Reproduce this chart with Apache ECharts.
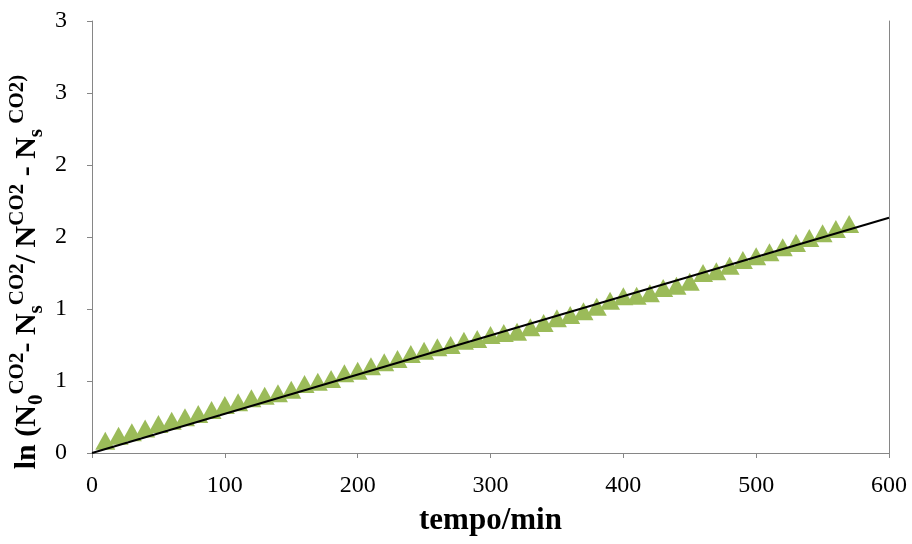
<!DOCTYPE html>
<html>
<head>
<meta charset="utf-8">
<script src="https://cdn.jsdelivr.net/npm/echarts@6/dist/echarts.min.js"></script>
<style>html,body{margin:0;padding:0;background:#fff}#c{width:912px;height:544px}</style>
</head>
<body>
<div id="c"></div>
<script>
var tempo = [10,20,30,40,50,60,70,80,90,100,110,120,130,140,150,160,170,180,190,200,210,220,230,240,250,260,270,280,290,300,310,320,330,340,350,360,370,380,390,400,410,420,430,440,450,460,470,480,490,500,510,520,530,540,550,560,570];
var lnValues = [0.085,0.120,0.144,0.171,0.201,0.224,0.248,0.271,0.299,0.333,0.352,0.380,0.398,0.415,0.440,0.479,0.495,0.514,0.553,0.572,0.602,0.630,0.653,0.688,0.710,0.734,0.750,0.780,0.792,0.819,0.833,0.842,0.873,0.903,0.935,0.958,0.984,1.016,1.058,1.088,1.092,1.109,1.146,1.162,1.190,1.250,1.262,1.301,1.340,1.366,1.394,1.428,1.458,1.493,1.526,1.556,1.590];
var trendX = [0, 600];
var trendY = [0, 1.634];
var yTickValues = [0, 0.5, 1, 1.5, 2, 2.5, 3];
var yTickLabels = ['0','1','1','2','2','3','3'];
var xTickLabels = ['0','100','200','300','400','500','600'];

var serif = 'Liberation Serif';
var axisColor = '#868686';
var chart = echarts.init(document.getElementById('c'), null, {renderer: 'canvas'});

var scatterData = tempo.map(function (t, i) { return [t, lnValues[i]]; });
var trendData = trendX.map(function (t, i) { return [t, trendY[i]]; });

var titleRich = {
  b: {fontFamily: serif, fontWeight: 'bold', fontSize: 30, lineHeight: 40, color: '#000', verticalAlign: 'middle'},
  sup: {fontFamily: serif, fontWeight: 'bold', fontSize: 21, lineHeight: 22, color: '#000', verticalAlign: 'top'},
  sub: {fontFamily: serif, fontWeight: 'bold', fontSize: 21, lineHeight: 22, color: '#000', verticalAlign: 'bottom'}
};

chart.setOption({
  animation: false,
  backgroundColor: '#fff',
  grid: {left: 92, right: 23, top: 21, bottom: 91, containLabel: false},
  xAxis: {
    type: 'value', min: 0, max: 600, interval: 100,
    name: 'tempo/min', nameLocation: 'middle', nameGap: 52,
    nameTextStyle: {fontFamily: serif, fontWeight: 'bold', fontSize: 31, color: '#000'},
    axisLine: {show: true, lineStyle: {color: axisColor, width: 1}},
    axisTick: {show: true, length: 5, lineStyle: {color: axisColor}},
    axisLabel: {fontFamily: serif, fontSize: 24, color: '#000', margin: 21,
      formatter: function (v) { return xTickLabels[Math.round(v / 100)]; }},
    splitLine: {show: false}
  },
  yAxis: [{
    type: 'value', min: 0, max: 3, interval: 0.5,
    axisLine: {show: true, lineStyle: {color: axisColor, width: 1}},
    axisTick: {show: true, length: 5, lineStyle: {color: axisColor}},
    axisLabel: {fontFamily: serif, fontSize: 24, color: '#000', margin: 25,
      formatter: function (v) { var i = yTickValues.indexOf(v); return i >= 0 ? yTickLabels[i] : ''; }},
    splitLine: {show: false}
  }, {
    type: 'value', min: 0, max: 3, interval: 0.5, position: 'right',
    axisLine: {show: true, lineStyle: {color: axisColor, width: 1}},
    axisTick: {show: false}, axisLabel: {show: false}, splitLine: {show: false}
  }],
  graphic: [{
    type: 'text',
    x: 27, y: 272,
    rotation: Math.PI / 2,
    style: {
      text: '{b|ln (N}{sub|0}{sup|CO2}{b|- N}{sub|s}{sup|CO2}{b|/ N}{sup|CO2}{b| - N}{sub|s}{sup| CO2)}',
      rich: titleRich,
      align: 'center',
      verticalAlign: 'middle'
    }
  }],
  series: [{
    type: 'scatter',
    data: scatterData,
    symbol: 'triangle',
    symbolSize: [20, 18],
    itemStyle: {color: '#9BBB59', opacity: 1},
    z: 2
  }, {
    type: 'line',
    data: trendData,
    showSymbol: false,
    symbol: 'none',
    lineStyle: {color: '#000', width: 2},
    z: 3
  }]
});
</script>
</body>
</html>
